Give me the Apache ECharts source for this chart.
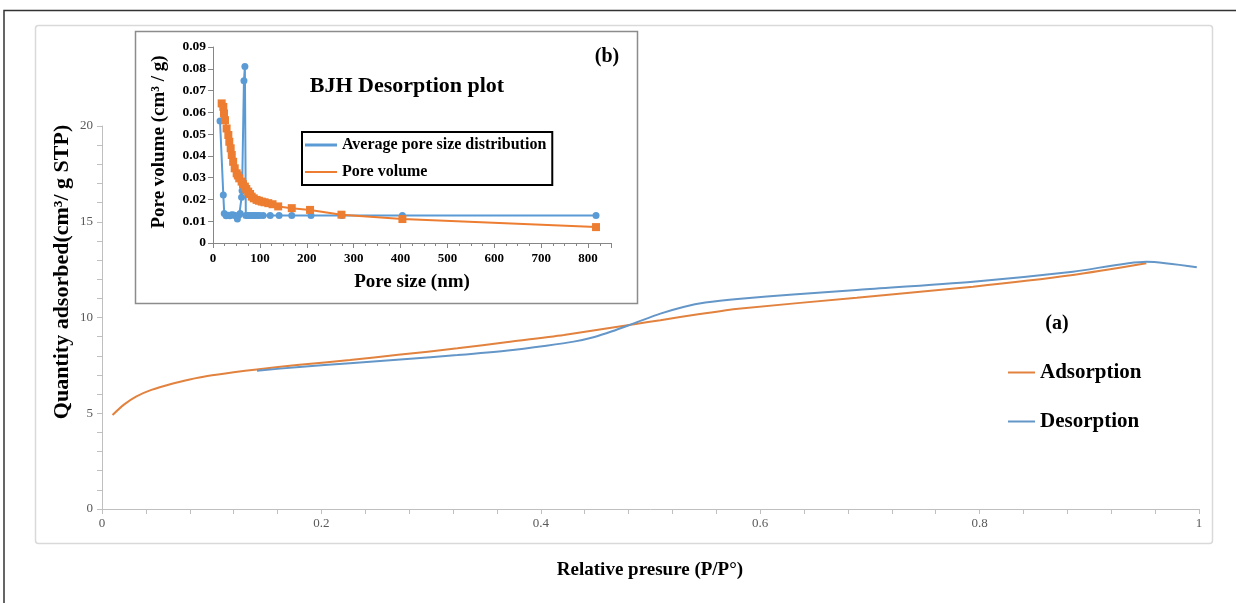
<!DOCTYPE html>
<html>
<head>
<meta charset="utf-8">
<title>Nitrogen isotherm and BJH desorption</title>
<script src="https://cdn.jsdelivr.net/npm/echarts@6/dist/echarts.min.js"></script>
<style>
  html, body { margin: 0; padding: 0; background: #fff; }
  #chart { width: 1236px; height: 603px; }
</style>
</head>
<body>
<div id="chart"></div>
<script>
// ---- Isotherm (a): relative pressure P/P° vs quantity adsorbed (cm³/g STP)
const adsorption = [
  [0.0096, 4.91], [0.02, 5.45], [0.031, 5.87], [0.045, 6.22], [0.063, 6.53],
  [0.08, 6.76], [0.096, 6.94], [0.12, 7.14], [0.141, 7.29], [0.18, 7.53],
  [0.226, 7.78], [0.27, 8.05], [0.324, 8.39], [0.37, 8.72], [0.421, 9.09],
  [0.4865, 9.66], [0.509, 9.86], [0.545, 10.18], [0.58, 10.46], [0.688, 11.03],
  [0.794, 11.61], [0.885, 12.22], [0.952, 12.83]
];
const desorption = [
  [0.1413, 7.22], [0.18, 7.42], [0.226, 7.61], [0.275, 7.82], [0.324, 8.04],
  [0.37, 8.28], [0.405, 8.53], [0.43, 8.74], [0.448, 8.97], [0.465, 9.28],
  [0.4865, 9.73], [0.509, 10.2], [0.53, 10.55], [0.55, 10.78], [0.582, 10.98],
  [0.63, 11.2], [0.688, 11.44], [0.794, 11.87], [0.885, 12.39], [0.952, 12.91],
  [0.998, 12.62]
];

// ---- BJH desorption (b): pore size (nm) vs pore volume (cm³/g)
const poreSizeDistribution = [
  [15, 0.056], [22, 0.022], [24, 0.0135], [28, 0.0125], [32, 0.0127], [36, 0.0125],
  [40, 0.013], [44, 0.0128], [48, 0.0125], [52, 0.011], [56, 0.013], [58, 0.0135],
  [61, 0.021], [62, 0.024], [66, 0.0745], [68, 0.081], [70, 0.0126], [74, 0.0126],
  [78, 0.0126], [82, 0.0126], [86, 0.0126], [90, 0.0126], [95, 0.0126], [100, 0.0126],
  [107, 0.0126], [122, 0.0126], [141, 0.0126], [168, 0.0126], [209, 0.0126],
  [275, 0.0126], [404, 0.0126], [817, 0.0126]
];
const poreVolume = [
  [18.5, 0.0641], [22, 0.0625], [23.5, 0.0595], [25.6, 0.0564], [29, 0.0526],
  [32.7, 0.0496], [34.8, 0.0465], [37.7, 0.0435], [40, 0.0404], [43, 0.0373],
  [46.3, 0.0343], [50.5, 0.032], [53, 0.031], [56, 0.0297], [61, 0.0282],
  [64, 0.027], [68, 0.0259], [71, 0.0248], [75, 0.0236], [79, 0.0225],
  [82.5, 0.0213], [87, 0.0205], [93, 0.0198], [98, 0.0194], [104, 0.019],
  [110, 0.0187], [118, 0.0183], [127, 0.0178], [139, 0.0168], [168, 0.016],
  [207, 0.0152], [274, 0.013], [404, 0.011], [817, 0.0073]
];

const SERIF = '"Liberation Serif", "Times New Roman", serif';
const ORANGE_MAIN = '#E2823F';
const BLUE_MAIN = '#6496C8';
const ORANGE = '#ED7D31';
const BLUE = '#5B9BD5';

const chart = echarts.init(document.getElementById('chart'), null, { renderer: 'canvas' });

chart.setOption({
  animation: false,
  backgroundColor: '#fff',
  textStyle: { fontFamily: SERIF },
  graphic: [
    // outer frame (top and left edges)
    { type: 'polyline', z: -5, shape: { points: [[4, 603], [4, 10.5], [1236, 10.5]] },
      style: { stroke: '#333', lineWidth: 1.5, fill: null } },
    // chart area box
    { type: 'rect', z: -5, shape: { x: 35.5, y: 25.5, width: 1177, height: 518, r: 3 },
      style: { stroke: '#d9d9d9', lineWidth: 1.5, fill: '#fff' } },
    // inset box
    { type: 'rect', z: -4, shape: { x: 135.5, y: 31.5, width: 502, height: 272 },
      style: { stroke: '#8c8c8c', lineWidth: 1.5, fill: '#fff' } },
    // axis titles
    { type: 'text', z: 10, x: 62, y: 272, rotation: Math.PI / 2,
      style: { text: 'Quantity adsorbed(cm³/ g STP)', font: 'bold 22px ' + SERIF,
               fill: '#000', align: 'center', verticalAlign: 'middle' } },
    { type: 'text', z: 10, x: 650, y: 570,
      style: { text: 'Relative presure (P/P°)', font: 'bold 19px ' + SERIF,
               fill: '#000', align: 'center', verticalAlign: 'middle' } },
    { type: 'text', z: 10, x: 159, y: 142, rotation: Math.PI / 2,
      style: { text: 'Pore volume (cm³ / g)', font: 'bold 19px ' + SERIF,
               fill: '#000', align: 'center', verticalAlign: 'middle' } },
    { type: 'text', z: 10, x: 412, y: 282,
      style: { text: 'Pore size (nm)', font: 'bold 19px ' + SERIF,
               fill: '#000', align: 'center', verticalAlign: 'middle' } },
    // panel labels
    { type: 'text', z: 10, x: 407, y: 86,
      style: { text: 'BJH Desorption plot', font: 'bold 22px ' + SERIF,
               fill: '#000', align: 'center', verticalAlign: 'middle' } },
    { type: 'text', z: 10, x: 607, y: 57,
      style: { text: '(b)', font: 'bold 20px ' + SERIF,
               fill: '#000', align: 'center', verticalAlign: 'middle' } },
    { type: 'text', z: 10, x: 1057, y: 324,
      style: { text: '(a)', font: 'bold 20px ' + SERIF,
               fill: '#000', align: 'center', verticalAlign: 'middle' } }
  ],
  legend: [
    {
      orient: 'vertical', left: 1003, top: 357,
      itemWidth: 27, itemHeight: 2, itemGap: 28, icon: 'rect',
      textStyle: { fontFamily: SERIF, fontWeight: 'bold', fontSize: 21, color: '#000' },
      data: ['Adsorption', 'Desorption']
    },
    {
      orient: 'vertical', left: 302, top: 132,
      borderColor: '#000', borderWidth: 2, padding: [5, 6, 5, 3],
      itemWidth: 32, itemHeight: 3, itemGap: 11, symbolKeepAspect: true,
      textStyle: { fontFamily: SERIF, fontWeight: 'bold', fontSize: 16, color: '#000' },
      data: [
        { name: 'Average pore size distribution', icon: 'path://M0 0H32V3H0Z' },
        { name: 'Pore volume', icon: 'path://M0 0H32V2H0Z' }
      ]
    }
  ],
  grid: [
    { left: 102, right: 37, top: 126, bottom: 94 },
    { left: 213, right: 624.5, top: 47, bottom: 360 }
  ],
  xAxis: [
    {
      gridIndex: 0, type: 'value', min: 0, max: 1, interval: 0.2,
      axisLine: { lineStyle: { color: '#bfbfbf', width: 1 } },
      axisTick: { length: 5, lineStyle: { color: '#bfbfbf' } },
      minorTick: { show: true, splitNumber: 5, length: 5, lineStyle: { color: '#bfbfbf' } },
      splitLine: { show: false },
      axisLabel: { color: '#595959', fontSize: 13, fontFamily: SERIF, margin: 8 }
    },
    {
      gridIndex: 1, type: 'value', min: 0, max: 850, interval: 100,
      axisLine: { lineStyle: { color: '#868686', width: 1 } },
      axisTick: { length: 5, lineStyle: { color: '#868686' } },
      minorTick: { show: true, splitNumber: 4, length: 3, lineStyle: { color: '#868686' } },
      splitLine: { show: false },
      axisLabel: {
        color: '#000', fontSize: 13, fontWeight: 'bold', fontFamily: SERIF, margin: 9,
        formatter: v => (v % 100 === 0 ? String(v) : '')
      }
    }
  ],
  yAxis: [
    {
      gridIndex: 0, type: 'value', min: 0, max: 20, interval: 5,
      axisLine: { show: true, lineStyle: { color: '#bfbfbf', width: 1 } },
      axisTick: { show: true, length: 5, lineStyle: { color: '#bfbfbf' } },
      minorTick: { show: true, splitNumber: 5, length: 5, lineStyle: { color: '#bfbfbf' } },
      splitLine: { show: false },
      axisLabel: { color: '#595959', fontSize: 13, fontFamily: SERIF, margin: 9 }
    },
    {
      gridIndex: 1, type: 'value', min: 0, max: 0.09, interval: 0.01,
      axisLine: { show: true, lineStyle: { color: '#868686', width: 1 } },
      axisTick: { show: true, length: 5, lineStyle: { color: '#868686' } },
      splitLine: { show: false },
      axisLabel: { color: '#000', fontSize: 13.5, fontWeight: 'bold', fontFamily: SERIF, margin: 7 }
    }
  ],
  series: [
    {
      name: 'Adsorption', type: 'line', xAxisIndex: 0, yAxisIndex: 0,
      data: adsorption, showSymbol: false, smooth: 0.25,
      lineStyle: { color: ORANGE_MAIN, width: 2 }, itemStyle: { color: ORANGE_MAIN }
    },
    {
      name: 'Desorption', type: 'line', xAxisIndex: 0, yAxisIndex: 0,
      data: desorption, showSymbol: false, smooth: 0.25,
      lineStyle: { color: BLUE_MAIN, width: 2 }, itemStyle: { color: BLUE_MAIN }
    },
    {
      name: 'Average pore size distribution', type: 'line', xAxisIndex: 1, yAxisIndex: 1,
      data: poreSizeDistribution, symbol: 'circle', symbolSize: 7,
      lineStyle: { color: BLUE, width: 2 }, itemStyle: { color: BLUE }
    },
    {
      name: 'Pore volume', type: 'line', xAxisIndex: 1, yAxisIndex: 1,
      data: poreVolume, symbol: 'rect', symbolSize: 8,
      lineStyle: { color: ORANGE, width: 2 }, itemStyle: { color: ORANGE }
    }
  ]
});
</script>
</body>
</html>
